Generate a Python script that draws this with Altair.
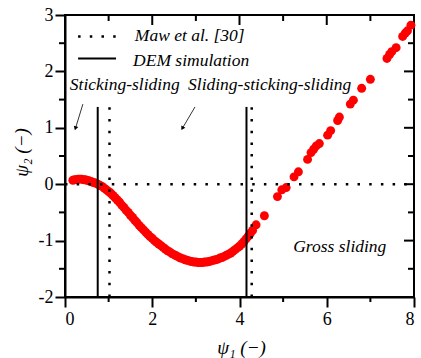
import altair as alt
import pandas as pd

# ---- data ----
psi1 = [0.18, 0.22, 0.26, 0.30, 0.34, 0.38, 0.42, 0.46, 0.50, 0.55, 0.60, 0.65, 0.70, 0.75,
        0.80, 0.85, 0.90, 0.95, 1.00, 1.05, 1.10, 1.15, 1.20, 1.25, 1.30, 1.35, 1.40, 1.45,
        1.50, 1.55, 1.60, 1.65, 1.70, 1.75, 1.80, 1.85, 1.90, 1.95, 2.00, 2.05, 2.10, 2.15,
        2.20, 2.25, 2.30, 2.35, 2.40, 2.45, 2.50, 2.55, 2.60, 2.65, 2.70, 2.75, 2.80, 2.85,
        2.90, 2.95, 3.00, 3.05, 3.10, 3.15, 3.20, 3.25, 3.30, 3.35, 3.40, 3.45, 3.50, 3.55,
        3.60, 3.65, 3.70, 3.75, 3.80, 3.85, 3.90, 3.95, 4.00, 4.05, 4.10, 4.15, 4.20, 4.25,
        4.30, 4.38, 4.57, 4.87, 4.97, 5.07, 5.25, 5.35, 5.56, 5.64, 5.70, 5.76, 5.83, 6.02,
        6.09, 6.25, 6.29, 6.54, 6.61, 6.80, 7.00, 7.38, 7.44, 7.49, 7.59, 7.74, 7.80, 7.85,
        7.93]
psi2 = [0.07, 0.08, 0.08, 0.09, 0.09, 0.09, 0.08, 0.08, 0.07, 0.06, 0.05, 0.03, 0.02, 0.00,
        -0.02, -0.04, -0.07, -0.10, -0.13, -0.16, -0.20, -0.24, -0.28, -0.32, -0.37, -0.41, -0.46, -0.50,
        -0.55, -0.59, -0.64, -0.68, -0.73, -0.77, -0.81, -0.85, -0.89, -0.93, -0.96, -1.00, -1.03, -1.06,
        -1.09, -1.12, -1.15, -1.18, -1.20, -1.23, -1.25, -1.27, -1.29, -1.31, -1.32, -1.34, -1.35, -1.36,
        -1.37, -1.38, -1.38, -1.39, -1.39, -1.39, -1.38, -1.38, -1.37, -1.36, -1.35, -1.34, -1.33, -1.31,
        -1.30, -1.28, -1.26, -1.24, -1.22, -1.19, -1.16, -1.13, -1.10, -1.06, -1.02, -0.97, -0.92, -0.87,
        -0.82, -0.72, -0.56, -0.22, -0.10, -0.06, 0.13, 0.22, 0.44, 0.56, 0.62, 0.68, 0.72, 0.87,
        0.95, 1.13, 1.19, 1.42, 1.49, 1.70, 1.86, 2.23, 2.30, 2.35, 2.42, 2.62, 2.68, 2.72,
        2.82]

# boundaries (psi1 values) : DEM simulation (solid) and Maw et al. (dotted)
dem_bounds = [0.75, 4.16]
maw_bounds = [1.02, 4.28]

x_major = [0, 2, 4, 6, 8]
x_minor = [1, 3, 5, 7]
y_major = [-2, -1, 0, 1, 2, 3]
y_minor = [-1.5, -0.5, 0.5, 1.5, 2.5]

FONT = "Liberation Serif"
W, H = 349, 282

xs = alt.Scale(domain=[0, 8], nice=False, zero=False)
ys = alt.Scale(domain=[-2, 3], nice=False, zero=False)

X_AXIS = alt.Axis(values=x_major, tickSize=10, title="ψ₁ (−)",
                  titleX=176, titleY=50, titleBaseline="middle", titleAlign="center",
                  labelPadding=3, labelExpr="'' + datum.value")
Y_AXIS = alt.Axis(values=y_major, tickSize=10, title="ψ₂ (−)",
                  titleX=-44, titleY=137, titleAngle=-90, titleBaseline="middle",
                  titleAlign="center", labelPadding=2, labelExpr="'' + datum.value")


def X(field, **kw):
    return alt.X(field, scale=xs, axis=X_AXIS, **kw)


def Y(field, **kw):
    return alt.Y(field, scale=ys, axis=Y_AXIS, **kw)


df = pd.DataFrame({"psi1": psi1, "psi2": psi2})

points = alt.Chart(df).mark_circle(size=80, color="#ff0000", opacity=1).encode(
    x=X("psi1:Q"), y=Y("psi2:Q"))

# vertical boundary lines
v_top = 1.37
dem_df = pd.DataFrame({"psi1": dem_bounds, "psi2": [-2] * 2, "y2": [v_top] * 2})
maw_df = pd.DataFrame({"psi1": maw_bounds, "psi2": [-2] * 2, "y2": [v_top] * 2})
dem_lines = alt.Chart(dem_df).mark_rule(color="black", strokeWidth=2).encode(
    x=X("psi1:Q"), y=Y("psi2:Q"), y2="y2:Q")
maw_lines = alt.Chart(maw_df).mark_rule(color="black", strokeWidth=2.5, strokeDash=[2.5, 9.2]).encode(
    x=X("psi1:Q"), y=Y("psi2:Q"), y2="y2:Q")

zero_df = pd.DataFrame({"psi1": [0], "x2": [8], "psi2": [0]})
zero_line = alt.Chart(zero_df).mark_rule(color="black", strokeWidth=2.5, strokeDash=[2.5, 9.2]).encode(
    x=X("psi1:Q"), x2="x2:Q", y=Y("psi2:Q"))

# legend
leg_dot = pd.DataFrame({"psi1": [0.30], "x2": [1.17], "psi2": [2.62]})
leg_sol = pd.DataFrame({"psi1": [0.30], "x2": [1.17], "psi2": [2.23]})
leg_dot_l = alt.Chart(leg_dot).mark_rule(color="black", strokeWidth=2.5, strokeDash=[2.5, 9.2]).encode(
    x=X("psi1:Q"), x2="x2:Q", y=Y("psi2:Q"))
leg_sol_l = alt.Chart(leg_sol).mark_rule(color="black", strokeWidth=2).encode(
    x=X("psi1:Q"), x2="x2:Q", y=Y("psi2:Q"))

texts = pd.DataFrame({
    "psi1": [1.60, 1.56, 0.11, 2.82, 5.23],
    "psi2": [2.54, 2.10, 1.67, 1.67, -1.20],
    "t": ["Maw et al. [30]", "DEM  simulation", "Sticking-sliding",
          "Sliding-sticking-sliding", "Gross sliding"],
})
text_layer = alt.Chart(texts).mark_text(font=FONT, fontSize=17.5, fontStyle="italic",
                                        align="left", baseline="alphabetic", color="black").encode(
    x=X("psi1:Q"), y=Y("psi2:Q"), text="t:N")

# arrows
arr = pd.DataFrame({"psi1": [0.41, 2.98], "psi2": [1.42, 1.37], "x2": [0.24, 2.69], "y2": [0.99, 0.99]})
arr_lines = alt.Chart(arr).mark_rule(color="black", strokeWidth=0.8).encode(
    x=X("psi1:Q"), y=Y("psi2:Q"), x2="x2:Q", y2="y2:Q")
head_df = pd.DataFrame({"psi1": [0.24, 2.69], "psi2": [0.99, 0.99], "ang": [197, 210]})
arr_heads = alt.Chart(head_df).mark_point(shape="triangle-up", filled=True, size=22, color="black", opacity=1).encode(
    x=X("psi1:Q"), y=Y("psi2:Q"), angle=alt.Angle("ang:Q", scale=None))


# minor / inward ticks
def vticks(vals, y0, y1):
    return alt.Chart(pd.DataFrame({"psi1": vals})).mark_rule(color="black", strokeWidth=2).encode(
        x=X("psi1:Q"), y=alt.value(y0), y2=alt.value(y1))


def hticks(vals, x0, x1):
    return alt.Chart(pd.DataFrame({"psi2": vals})).mark_rule(color="black", strokeWidth=2).encode(
        y=Y("psi2:Q"), x=alt.value(x0), x2=alt.value(x1))


ticks = [
    vticks(x_minor, H, H + 5),          # bottom minor, outward
    vticks(x_major[1:-1], 0, 10),       # top major, inward
    vticks(x_minor, 0, 6),              # top minor, inward
    hticks(y_minor, -6, 0),             # left minor, outward
    hticks(y_major[1:-1], W - 10, W),   # right major, inward
    hticks(y_minor, W - 6, W),          # right minor, inward
]

chart = alt.layer(
    points, zero_line, dem_lines, maw_lines, leg_dot_l, leg_sol_l, text_layer,
    arr_lines, arr_heads, *ticks
).properties(
    width=W, height=H, autosize="none",
    padding={"left": 65, "top": 15, "right": 7, "bottom": 61},
    background="white",
).configure_view(
    stroke="black", strokeWidth=2
).configure_axis(
    domainColor="black", domainWidth=2, tickColor="black", tickWidth=2,
    labelFont=FONT, labelFontSize=18, labelColor="black",
    titleFont=FONT, titleFontSize=19, titleFontStyle="italic", titleFontWeight="normal",
    titleColor="black", grid=False,
)

chart.save("out.html", embed_options={"renderer": "svg", "actions": False})
